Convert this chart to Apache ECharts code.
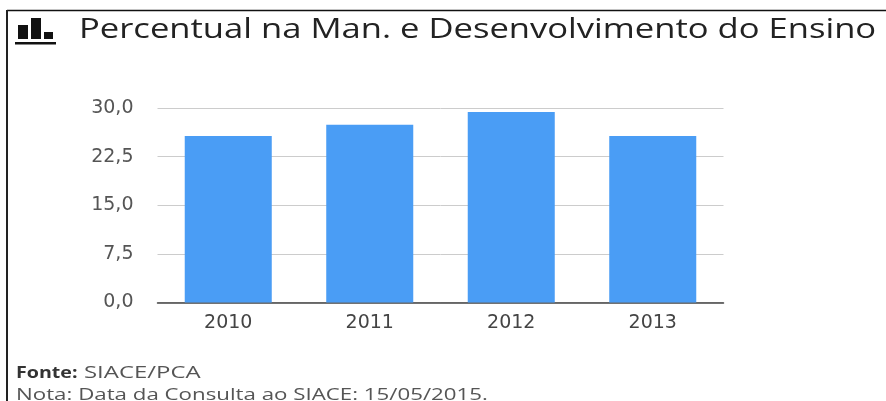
<!DOCTYPE html>
<html><head><meta charset="utf-8">
<style>html,body{margin:0;padding:0;background:#fff}#c{width:886px;height:401px}</style>
<script src="https://cdn.jsdelivr.net/npm/echarts@6/dist/echarts.min.js"></script>
</head><body><div id="c"></div>
<script>
const categories = ['2010','2011','2012','2013'];
const values = [25.7,27.4,29.4,25.7];
const titleText = 'Percentual na Man. e Desenvolvimento do Ensino';
const fonteLabel = 'Fonte:';
const fonteText = 'SIACE/PCA';
const notaText = 'Nota: Data da Consulta ao SIACE: 15/05/2015.';
const chart = echarts.init(document.getElementById('c'),null,{renderer:'canvas'});
chart.setOption({
  animation:false,
  backgroundColor:'#fff',
  grid:{left:157.5,top:108,width:566,height:194.5,containLabel:false},
  xAxis:{type:'category',data:categories,
    axisLine:{lineStyle:{color:'#444',width:1.5}},axisTick:{show:false},
    axisLabel:{color:'#444',fontFamily:'DejaVu Sans',fontSize:19,margin:11}},
  yAxis:{type:'value',min:0,max:30,interval:7.5,
    axisLine:{show:false},axisTick:{show:false},
    splitLine:{lineStyle:{color:'#ccc',width:1}},
    axisLabel:{color:'#555',fontFamily:'DejaVu Sans',fontSize:19,margin:24,padding:[2,0,0,0],
      formatter:v=>v.toFixed(1).replace('.',',')}},
  series:[{type:'bar',data:values,barWidth:'61.5%',itemStyle:{color:'#4a9df5'}}],
  graphic:[
    {type:'line',shape:{x1:7,y1:10.5,x2:886,y2:10.5},style:{stroke:'#111',lineWidth:1.5}},
    {type:'line',shape:{x1:7,y1:10,x2:7,y2:401},style:{stroke:'#222',lineWidth:2}},
    {type:'rect',shape:{x:18,y:25,width:10,height:14},style:{fill:'#111'}},
    {type:'rect',shape:{x:31,y:18,width:10,height:21},style:{fill:'#111'}},
    {type:'rect',shape:{x:44,y:32,width:9,height:7},style:{fill:'#111'}},
    {type:'rect',shape:{x:15,y:42,width:41,height:2.5},style:{fill:'#111'}},
    {type:'text',x:79,y:30,scaleX:1.235,style:{text:titleText,font:'28px "Open Sans"',fill:'#222',textVerticalAlign:'middle'}},
    {type:'text',x:16,y:373,scaleX:1.19,style:{text:fonteLabel,font:'bold 16.5px "Open Sans"',fill:'#333',textVerticalAlign:'middle'}},
    {type:'text',x:84,y:373,scaleX:1.45,style:{text:fonteText,font:'16.5px "Open Sans"',fill:'#555',textVerticalAlign:'middle'}},
    {type:'text',x:16,y:395,scaleX:1.35,style:{text:notaText,font:'16.5px "Open Sans"',fill:'#555',textVerticalAlign:'middle'}}
  ]
});
</script></body></html>
